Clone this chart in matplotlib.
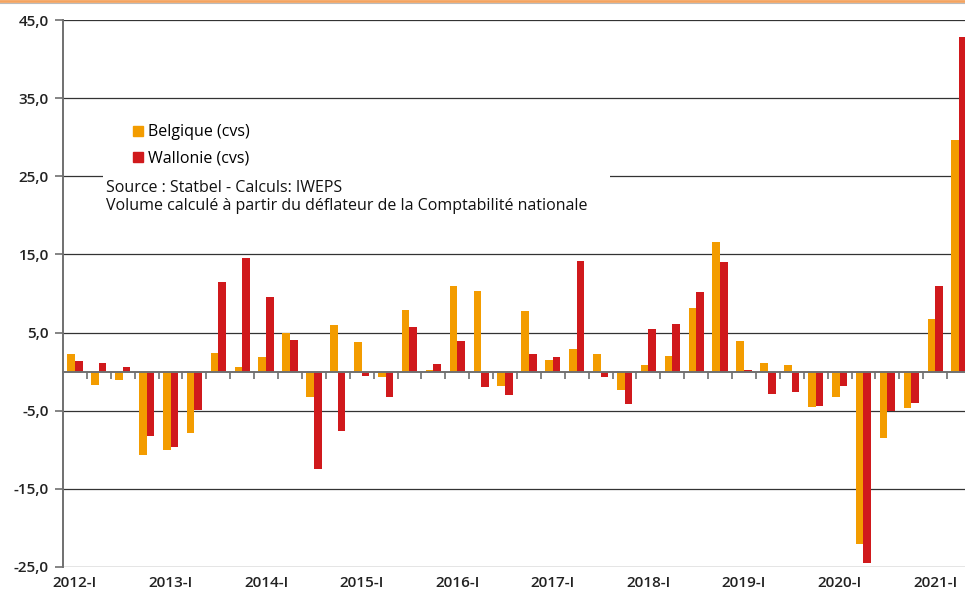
import numpy as np
import matplotlib
matplotlib.use("Agg")
import matplotlib.pyplot as plt
from matplotlib.lines import Line2D
from matplotlib.patches import Rectangle, Patch

plt.rcParams['font.family'] = ['Open Sans', 'DejaVu Sans']

years = list(range(2012, 2022))
quarters = ["I", "II", "III", "IV"]
periods = [f"{y}-{q}" for y in years for q in quarters][:38]

belgique = [2.3, -1.7, -1.1, -10.7, -10.0, -7.9, 2.4, 0.6, 1.9, 5.0, -3.3,
            6.0, 3.8, -0.7, 7.9, 0.2, 11.0, 10.3, -1.8, 7.8, 1.5, 2.9, 2.2, -2.4,
            0.9, 2.0, 8.2, 16.6, 3.9, 1.1, 0.9, -4.5, -3.2, -22.1, -8.5, -4.7,
            6.7, 29.6]
wallonie = [1.3, 1.1, 0.6, -8.2, -9.6, -4.9, 11.5, 14.6, 9.6, 4.1, -12.5,
            -7.6, -0.5, -3.2, 5.7, 1.0, 3.9, -2.0, -3.0, 2.3, 1.9, 14.2, -0.7, -4.1,
            5.4, 6.1, 10.2, 14.0, 0.2, -2.8, -2.6, -4.4, -1.8, -24.5, -5.1, -4.0,
            11.0, 42.8]

orange = "#F39C00"
red = "#D0191C"
grid_c = "#333333"

fig = plt.figure(figsize=(9.65, 5.93), dpi=100)
ax = fig.add_axes([63 / 965, 26 / 593, 908 / 965, 547 / 593])

x = np.arange(len(periods))
w = 0.32
ax.bar(x + 0.5 - w / 2, belgique, width=w, color=orange, zorder=3)
ax.bar(x + 0.5 + w / 2, wallonie, width=w, color=red, zorder=3)

ax.set_xlim(0, len(periods))
ax.set_ylim(-25, 45)
yt = np.arange(-25, 46, 10)
ax.set_yticks(yt)
ax.set_yticklabels([f"{v:.1f}".replace(".", ",") for v in yt],
                   fontsize=11, fontweight="semibold", color="#222222")
for v in yt:
    ax.axhline(v, color=grid_c, lw=0.9, zorder=1)
ax.tick_params(axis="y", length=6, color="#707070", width=1.2, pad=4)

# x axis ticks on zero line, labels at bottom
ax.spines["bottom"].set_position(("data", 0))
ax.spines["bottom"].set_color("#707070")
ax.spines["bottom"].set_linewidth(1.4)
ax.spines["bottom"].set_zorder(4)
ax.set_xticks(np.arange(1, len(periods)))
ax.set_xticklabels([])
ax.tick_params(axis="x", length=5, color="#707070", width=1.2)
for sp in ["top", "right"]:
    ax.spines[sp].set_visible(False)
ax.spines["left"].set_color("#707070")
ax.spines["left"].set_linewidth(1.4)

for i, p in enumerate(periods):
    if p.endswith("-I"):
        ax.text(i + 0.5, -0.016, p, transform=ax.get_xaxis_transform(),
                ha="center", va="top", fontsize=11, fontweight="semibold",
                color="#222222")

# white box behind source note
fig.patches.append(Rectangle((103 / 965, 1 - 216 / 593), 507 / 965, 42 / 593,
                             transform=fig.transFigure, facecolor="white",
                             edgecolor="none", zorder=5))
fig.text(106 / 965, 1 - 197 / 593, "Source : Statbel - Calculs: IWEPS\n"
         "Volume calculé à partir du déflateur de la Comptabilité nationale",
         fontsize=11.5, color="#111111", va="center", ha="left",
         linespacing=1.2, zorder=6)

handles = [Patch(color=orange, label="Belgique (cvs)"),
           Patch(color=red, label="Wallonie (cvs)")]
ax.legend(handles=handles, loc="upper left", bbox_to_anchor=(127 / 965, 1 - 118 / 593),
          bbox_transform=fig.transFigure, frameon=False, fontsize=11.5,
          handlelength=0.6, handleheight=0.6, handletextpad=0.3,
          labelspacing=0.65, borderaxespad=0)

# decorative top line
fig.add_artist(Line2D([0, 1], [1 - 1 / 593, 1 - 1 / 593], transform=fig.transFigure,
                      color="#F4A460", lw=2))
fig.add_artist(Line2D([0, 1], [1 - 3 / 593, 1 - 3 / 593], transform=fig.transFigure,
                      color="#bbbbbb", lw=0.8))

fig.savefig("out.png", dpi=100)
